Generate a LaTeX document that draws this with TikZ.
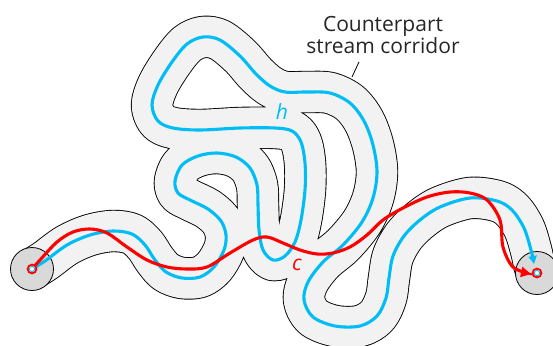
\documentclass[tikz,border=0pt]{standalone}
\usepackage{fontspec}
\setmainfont{Open Sans}
\usetikzlibrary{arrows.meta}
\definecolor{hblue}{RGB}{0,190,245}
\definecolor{cred}{RGB}{255,0,0}
\definecolor{corr}{RGB}{242,242,242}
\definecolor{disc}{RGB}{217,217,217}
\def\hpath{plot[smooth,tension=0.55] coordinates {
(S) (45,261) (67,245) (90,235) (113,231) (132,234) (145,245) (155,260) (166,272)
(182,278) (200,277) (214,267) (224,250) (226,235) (221,221) (208,209) (190,200)
(178,193) (175,181) (182,165) (198,156) (217,153) (236,157) (250,168) (257,185)
(258,205) (259,230) (263,250) (273,260) (285,256) (295,242) (301,220) (305,190)
(305,163) (301,142) (292,131) (275,128) (240,128) (200,130) (173,128) (158,121)
(152,105) (158,85) (172,62) (187,44) (203,37) (220,40) (240,56) (256,74)
(270,86) (285,92) (307,92) (330,93) (350,103) (364,121) (373,145) (377,172)
(373,198) (362,222) (343,245) (323,262) (308,282) (304,300) (313,317) (335,326)
(360,326) (377,316) (386,298) (389,278) (393,256) (404,236) (420,220) (440,207)
(470,198) (497,201) (512,210) (524,228) (531,250) (534,264)}}
\def\cpath{plot[smooth,tension=0.55] coordinates {
(S) (40,260) (57,242) (73,232) (90,229) (107,233) (127,247) (147,260) (167,267)
(187,269) (207,267) (230,253) (253,240) (267,237) (283,243) (300,250) (317,254)
(333,253) (350,247) (367,235) (383,220) (403,208) (427,197) (450,192) (470,193)
(487,200) (500,220) (503,247) (513,267) (531,274)}}
\tikzset{
  tubeout/.style={draw=black,line width=42.4pt,line join=round},
  tubein/.style={draw=corr,line width=40.6pt,line join=round},
  enddisc/.style={circle,fill=disc,draw=black,line width=0.8pt,minimum size=43pt,inner sep=0pt},
  hline/.style={draw=hblue,line width=3.1pt,line cap=round},
  cline/.style={draw=cred,line width=3.1pt,line cap=round},
  lbl/.style={font=\fontsize{21}{24}\selectfont,text=black!85,inner sep=0pt,anchor=base},
}
\begin{document}
\begin{tikzpicture}[x=1pt,y=-1pt]
\useasboundingbox (0,0) rectangle (553,345);
\coordinate (S) at (32,269);
\coordinate (E) at (537,273);
% corridor
\draw[tubeout] \hpath -- (E);
\draw[tubein] \hpath -- (E);
% end discs
\node[enddisc] (dS) at (S) {};
\node[enddisc] (dE) at (E) {};
% streams
\draw[hline,-{Triangle[length=8pt,width=8pt]}] \hpath;
\draw[cline,-{Triangle[length=10pt,width=10pt]}] \cpath;
% end markers
\foreach \p in {S,E}{
  \fill[white] (\p) circle (4.4);
  \draw[cred,line width=1.8pt] (\p) circle (4.4);
  \draw[hblue,line width=0.9pt] (\p) circle (2.6);
}
% labels
\node[lbl] (l1) at (383,32) {Counterpart};
\node[lbl] (l2) at (383,53) {stream corridor};
\coordinate (la) at (359,62);
\coordinate (lb) at (352,77);
\draw[black,line width=0.8pt] (la) -- (lb);
\node[lbl,text=hblue,font=\fontsize{21}{24}\selectfont\itshape] (hl) at (282,119) {h};
\node[lbl,text=cred,font=\fontsize{21}{24}\selectfont\itshape] (cl) at (297,270) {c};
\end{tikzpicture}
\end{document}
